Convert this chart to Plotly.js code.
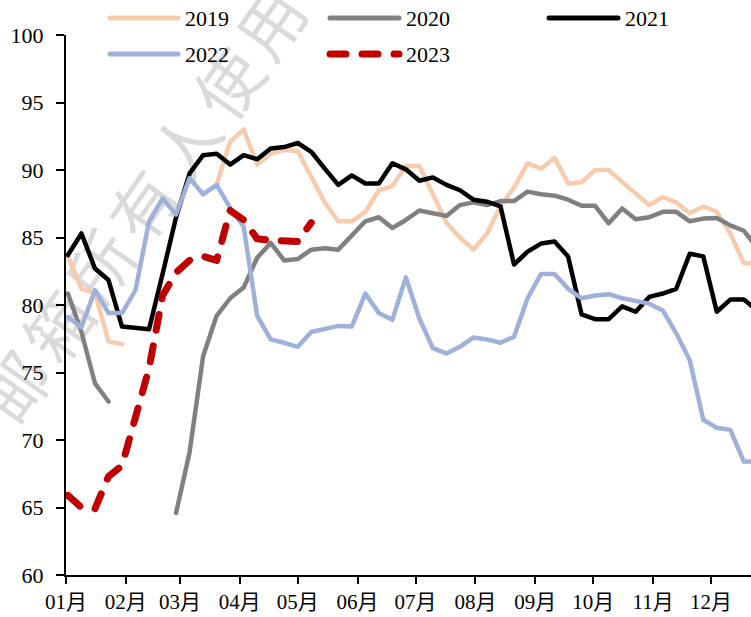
<!DOCTYPE html>
<html>
<head>
<meta charset="utf-8">
<script src="https://cdn.plot.ly/plotly-3.0.1.min.js"></script>
<style>
  html, body { margin:0; padding:0; background:#ffffff; }
  #wrap { position:relative; width:751px; height:617px; overflow:hidden; }
  #wm { position:absolute; left:143px; top:200px; transform:translate(-50%,-50%) rotate(-55deg);
        font-family:'Noto Sans CJK SC', sans-serif; font-size:66px; color:#dadada; white-space:nowrap;
        letter-spacing:8px; z-index:0; }
  #chart { position:absolute; left:0; top:0; width:751px; height:617px; z-index:1; }
  #chart path.js-line, #chart .shapelayer path { stroke-linecap: round !important; stroke-linejoin: round !important; }
</style>
</head>
<body>
<div id="wrap">
  <div id="wm">邮箱所有人使用</div>
  <div id="chart"></div>
</div>
<script>
// weekly observation dates (plotted on a common Jan–Dec calendar)
const weekDates = [
  "2023-01-02","2023-01-09","2023-01-16","2023-01-23","2023-01-30","2023-02-06","2023-02-13","2023-02-20",
  "2023-02-27","2023-03-06","2023-03-13","2023-03-20","2023-03-27","2023-04-03","2023-04-10","2023-04-17",
  "2023-04-24","2023-05-01","2023-05-08","2023-05-15","2023-05-22","2023-05-29","2023-06-05","2023-06-12",
  "2023-06-19","2023-06-26","2023-07-03","2023-07-10","2023-07-17","2023-07-24","2023-07-31","2023-08-07",
  "2023-08-14","2023-08-21","2023-08-28","2023-09-04","2023-09-11","2023-09-18","2023-09-25","2023-10-02",
  "2023-10-09","2023-10-16","2023-10-23","2023-10-30","2023-11-06","2023-11-13","2023-11-20","2023-11-27",
  "2023-12-04","2023-12-11","2023-12-18","2023-12-25"
];

const seriesNames = ["2019","2020","2021","2022","2023"];

const y2019 = [83.6,81.2,80.9,77.3,77.1,null,null,null,null,null,null,88.9,92.1,93.0,90.4,91.2,
  91.5,91.4,89.5,87.6,86.2,86.2,86.9,88.5,88.8,90.3,90.3,88.2,86.1,85.0,84.1,85.3,
  87.3,88.7,90.5,90.1,90.9,89.0,89.1,90.0,90.0,89.1,88.3,87.4,88.0,87.6,86.8,87.3,
  86.9,85.3,83.1,83.1];

const y2020 = [80.85,78.0,74.2,72.85,null,null,null,null,64.6,69.1,76.2,79.2,80.5,81.3,83.5,84.6,
  83.3,83.4,84.1,84.2,84.1,85.1,86.2,86.5,85.7,86.3,87.0,86.8,86.6,87.4,87.6,87.4,
  87.7,87.7,88.4,88.2,88.1,87.8,87.35,87.35,86.05,87.15,86.35,86.5,86.9,86.9,86.2,86.4,
  86.45,85.9,85.5,84.2];

const y2021 = [83.7,85.3,82.7,81.85,78.4,78.3,78.2,82.3,86.5,89.75,91.1,91.2,90.4,91.1,90.8,91.6,
  91.7,92.0,91.35,90.1,88.9,89.6,89.0,89.0,90.5,90.05,89.2,89.45,88.9,88.5,87.8,87.65,
  87.3,83.0,83.95,84.55,84.7,83.6,79.3,78.95,78.95,79.9,79.5,80.6,80.85,81.2,83.8,83.6,
  79.5,80.4,80.4,79.6];

const y2022 = [79.1,78.35,81.1,79.4,79.4,81.1,86.2,87.9,86.7,89.4,88.2,88.9,87.2,85.8,79.2,77.45,
  77.2,76.9,78.0,78.2,78.45,78.4,80.85,79.4,78.9,82.05,79.0,76.8,76.4,76.9,77.6,77.45,
  77.2,77.65,80.5,82.3,82.3,81.2,80.5,80.7,80.8,80.5,80.3,80.1,79.6,77.9,75.9,71.5,
  70.9,70.75,68.4,68.4];

const y2023 = [65.9,65.0,64.9,67.3,68.1,71.5,75.3,80.7,82.4,83.3,83.6,83.3,87.0,86.3,84.9,84.8,
  84.8,84.7,86.1];

const yTickVals = [60,65,70,75,80,85,90,95,100];

const colors = ["#F8CBAD","#808080","#000000","#9DB1DB","#C00000"];
const widths = [4.5,4.5,4.5,4.5,7];
const dashes = ["solid","solid","solid","solid","16px,16px"];
const allY = [y2019,y2020,y2021,y2022,y2023];

const traces = allY.map((ys,k) => ({
  type:"scatter", mode:"lines", name:seriesNames[k],
  x: weekDates.slice(0, ys.length), y: ys,
  line:{color:colors[k], width:widths[k], dash:dashes[k]},
  connectgaps:false, showlegend:false, hoverinfo:"skip"
}));

// manual legend (pixel layout converted to paper coordinates)
const L = 66, T = 35, W = 685, H = 540;
const px = v => (v - L) / W;
const py = v => (T + H - v) / H;
const legendSlots = [
  {x0:110, x1:178, tx:183, y:18},
  {x0:330, x1:399, tx:404, y:18},
  {x0:549, x1:618, tx:623, y:18},
  {x0:110, x1:178, tx:183, y:54},
  {x0:330, x1:399, tx:404, y:54}
];
const shapes = legendSlots.map((s,k) => ({
  type:"line", xref:"paper", yref:"paper",
  x0:px(s.x0), x1:px(s.x1), y0:py(s.y), y1:py(s.y),
  line:{color:colors[k], width:(k===4?7:5), dash:dashes[k]}
}));
const font = "'Liberation Serif','Times New Roman','Noto Sans CJK SC',serif";
const annotations = legendSlots.map((s,k) => ({
  xref:"paper", yref:"paper", x:px(s.tx), y:py(s.y), xanchor:"left", yanchor:"middle",
  text:seriesNames[k], showarrow:false, font:{family:font, size:22, color:"#000"}
}));

const layout = {
  width:751, height:617,
  margin:{l:L, r:0, t:T, b:617-T-H, pad:0},
  paper_bgcolor:"rgba(0,0,0,0)", plot_bgcolor:"rgba(0,0,0,0)",
  font:{family:font, size:22, color:"#000"},
  showlegend:false,
  xaxis:{
    type:"date", range:["2023-01-01","2023-12-21 17:00"],
    tick0:"2023-01-01", dtick:"M1", tickformat:"%m月",
    ticks:"outside", ticklen:7, tickwidth:2, tickcolor:"#000",
    showline:true, linewidth:2, linecolor:"#000", showgrid:false, zeroline:false,
    tickfont:{family:font, size:21, color:"#000"}, automargin:false
  },
  yaxis:{
    range:[60,100], tickvals:yTickVals, ticktext:yTickVals.map(String),
    ticks:"outside", ticklen:8, tickwidth:2, tickcolor:"#000",
    showline:true, linewidth:2, linecolor:"#000", showgrid:false, zeroline:false,
    tickfont:{family:font, size:22, color:"#000"}, ticklabelstandoff:8, automargin:false
  },
  shapes:shapes, annotations:annotations
};

Plotly.newPlot("chart", traces, layout, {staticPlot:true, displayModeBar:false});
</script>
</body>
</html>
